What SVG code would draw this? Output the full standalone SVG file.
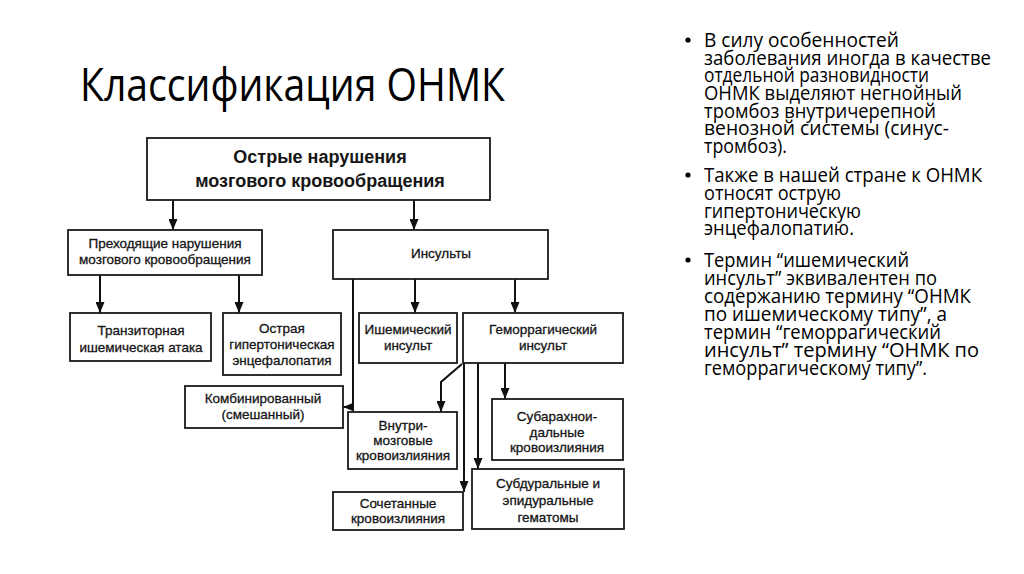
<svg xmlns="http://www.w3.org/2000/svg" width="1024" height="574" viewBox="0 0 1024 574">
<style>
.box{fill:#fff;stroke:#1a1a1a;stroke-width:1.8}
.t{font-family:"Liberation Sans",Arial,sans-serif;font-size:13.5px;fill:#151515;stroke:#151515;stroke-width:0.3;text-anchor:middle}
.tb{font-family:"Liberation Sans",Arial,sans-serif;font-size:18px;font-weight:bold;fill:#151515;text-anchor:middle}
.c{fill:none;stroke:#111;stroke-width:2}
.title{font-family:"Open Sans","Liberation Sans",sans-serif;font-size:46px;fill:#000}
.b{font-family:"Open Sans","Liberation Sans",sans-serif;font-size:19.5px;fill:#000}
</style>
<defs>
<marker id="ah" markerUnits="userSpaceOnUse" markerWidth="12" markerHeight="9" refX="11" refY="4.5" orient="auto">
<path d="M0,0 L11,4.5 L0,9 z" fill="#111"/>
</marker>
</defs>
<rect width="1024" height="574" fill="#fff"/>
<text class="title" x="80" y="101" textLength="425" lengthAdjust="spacingAndGlyphs">Классификация ОНМК</text>

<g id="connectors">
<path class="c" d="M173,200 V230" marker-end="url(#ah)"/>
<path class="c" d="M414,200 V230" marker-end="url(#ah)"/>
<path class="c" d="M100,275 V313" marker-end="url(#ah)"/>
<path class="c" d="M239,275 V313" marker-end="url(#ah)"/>
<path class="c" d="M353,279 V407 H343" marker-end="url(#ah)"/>
<path class="c" d="M415,279 V313" marker-end="url(#ah)"/>
<path class="c" d="M515,279 V313" marker-end="url(#ah)"/>
<path class="c" d="M462,364 L441,382 V412" marker-end="url(#ah)"/>
<path class="c" d="M464,363 V492" marker-end="url(#ah)"/>
<path class="c" d="M478,363 V469" marker-end="url(#ah)"/>
<path class="c" d="M505,363 V399" marker-end="url(#ah)"/>
</g>

<g id="n-onmk">
<rect class="box" x="147" y="138" width="343" height="62"/>
<text class="tb" x="320" y="163">Острые нарушения</text>
<text class="tb" x="320" y="187">мозгового кровообращения</text>
</g>
<g id="n-transient">
<rect class="box" x="68" y="230" width="194" height="45"/>
<text class="t" x="165" y="248">Преходящие нарушения</text>
<text class="t" x="165" y="264">мозгового кровообращения</text>
</g>
<g id="n-strokes">
<rect class="box" x="333" y="230" width="215" height="49"/>
<text class="t" x="441" y="258">Инсульты</text>
</g>
<g id="n-tia">
<rect class="box" x="70" y="313" width="141" height="48"/>
<text class="t" x="141" y="335">Транзиторная</text>
<text class="t" x="141" y="352">ишемическая атака</text>
</g>
<g id="n-hyper">
<rect class="box" x="223" y="313" width="118" height="62"/>
<text class="t" x="282" y="333">Острая</text>
<text class="t" x="282" y="349">гипертоническая</text>
<text class="t" x="282" y="365">энцефалопатия</text>
</g>
<g id="n-ischemic">
<rect class="box" x="359" y="313" width="98" height="50"/>
<text class="t" x="408" y="334">Ишемический</text>
<text class="t" x="408" y="350">инсульт</text>
</g>
<g id="n-hemorrhagic">
<rect class="box" x="463" y="313" width="160" height="50"/>
<text class="t" x="543" y="334">Геморрагический</text>
<text class="t" x="543" y="350">инсульт</text>
</g>
<g id="n-combined">
<rect class="box" x="185" y="386" width="158" height="42"/>
<text class="t" x="263" y="403">Комбинированный</text>
<text class="t" x="263" y="419">(смешанный)</text>
</g>
<g id="n-intracerebral">
<rect class="box" x="348" y="412" width="109" height="57"/>
<text class="t" x="403" y="430">Внутри-</text>
<text class="t" x="403" y="445">мозговые</text>
<text class="t" x="403" y="460">кровоизлияния</text>
</g>
<g id="n-subarachnoid">
<rect class="box" x="492" y="399" width="131" height="61"/>
<text class="t" x="557" y="421">Субарахнои-</text>
<text class="t" x="557" y="437">дальные</text>
<text class="t" x="557" y="452">кровоизлияния</text>
</g>
<g id="n-combined-hem">
<rect class="box" x="333" y="492" width="130" height="38"/>
<text class="t" x="398" y="508">Сочетанные</text>
<text class="t" x="398" y="523">кровоизлияния</text>
</g>
<g id="n-subdural">
<rect class="box" x="472" y="469" width="152" height="60"/>
<text class="t" x="548" y="488">Субдуральные и</text>
<text class="t" x="548" y="505">эпидуральные</text>
<text class="t" x="548" y="522">гематомы</text>
</g>

<g id="bullets">
<circle cx="688" cy="40" r="2.6" fill="#000"/>
<circle cx="688" cy="175" r="2.6" fill="#000"/>
<circle cx="688" cy="260" r="2.6" fill="#000"/>
<text class="b" x="704" y="47" textLength="195" lengthAdjust="spacingAndGlyphs">В силу особенностей</text>
<text class="b" x="704" y="64.5" textLength="287" lengthAdjust="spacingAndGlyphs">заболевания иногда в качестве</text>
<text class="b" x="704" y="82" textLength="225" lengthAdjust="spacingAndGlyphs">отдельной разновидности</text>
<text class="b" x="704" y="100" textLength="258" lengthAdjust="spacingAndGlyphs">ОНМК выделяют негнойный</text>
<text class="b" x="704" y="117.5" textLength="232" lengthAdjust="spacingAndGlyphs">тромбоз внутричерепной</text>
<text class="b" x="704" y="135" textLength="245" lengthAdjust="spacingAndGlyphs">венозной системы (синус-</text>
<text class="b" x="704" y="152.5" textLength="83" lengthAdjust="spacingAndGlyphs">тромбоз).</text>
<text class="b" x="704" y="182" textLength="278" lengthAdjust="spacingAndGlyphs">Также в нашей стране к ОНМК</text>
<text class="b" x="704" y="200" textLength="137" lengthAdjust="spacingAndGlyphs">относят острую</text>
<text class="b" x="704" y="217.5" textLength="157" lengthAdjust="spacingAndGlyphs">гипертоническую</text>
<text class="b" x="704" y="235" textLength="150" lengthAdjust="spacingAndGlyphs">энцефалопатию.</text>
<text class="b" x="704" y="267" textLength="205" lengthAdjust="spacingAndGlyphs">Термин “ишемический</text>
<text class="b" x="704" y="285" textLength="233" lengthAdjust="spacingAndGlyphs">инсульт” эквивалентен по</text>
<text class="b" x="704" y="303" textLength="267" lengthAdjust="spacingAndGlyphs">содержанию термину “ОНМК</text>
<text class="b" x="704" y="321" textLength="243" lengthAdjust="spacingAndGlyphs">по ишемическому типу”, а</text>
<text class="b" x="704" y="339" textLength="237" lengthAdjust="spacingAndGlyphs">термин “геморрагический</text>
<text class="b" x="704" y="357" textLength="275" lengthAdjust="spacingAndGlyphs">инсульт” термину “ОНМК по</text>
<text class="b" x="704" y="375" textLength="223" lengthAdjust="spacingAndGlyphs">геморрагическому типу”.</text>
</g>
</svg>
